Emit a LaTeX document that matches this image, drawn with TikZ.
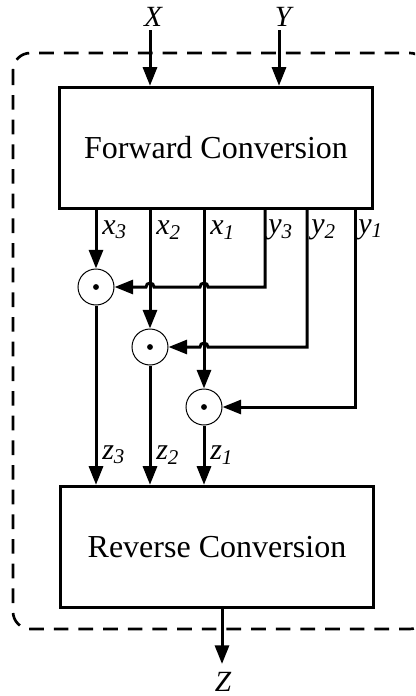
\documentclass[tikz,border=0pt]{standalone}
\usepackage{fontspec}
\setmainfont{Liberation Serif}
\usetikzlibrary{arrows.meta}
\begin{document}
\begin{tikzpicture}[x=0.75pt,y=-0.75pt,
  box/.style={draw,line width=2.25pt,minimum width=235pt,minimum height=91pt,inner sep=0,font=\fontsize{24}{28}\selectfont},
  arr/.style={line width=2.25pt,-{Triangle[length=14pt,width=10.5pt]}},
  mul/.style={draw,circle,line width=0.75pt,minimum size=27pt,inner sep=0},
  lab/.style={anchor=west,inner sep=0,font=\fontsize{22.5}{26}\selectfont\itshape},
  io/.style={inner sep=0,font=\fontsize{22}{26}\selectfont\itshape}]
\useasboundingbox (0,0) rectangle (415,696);
\clip (0,0) rectangle (415,696);
\draw[line width=2pt,dash pattern=on 11pt off 7.5pt,rounded corners=13pt] (13,53) rectangle (427,629);
\node[box] (fwd) at (216,148) {Forward Conversion};
\node[box] (rev) at (217,547) {Reverse Conversion};
\node[io] (X) at (153,17) {X};
\node[io] (Y) at (283,17) {Y};
\node[io] (Z) at (223,682) {Z};
\coordinate (xs) at (150,30);
\coordinate (ys) at (279,30);
\coordinate (ze) at (222,664);
\draw[arr] (xs) -- (xs |- fwd.north);
\draw[arr] (ys) -- (ys |- fwd.north);
\draw[arr] (ze |- rev.south) -- (ze);
\node[mul] (m1) at (96,287) {};
\node[mul] (m2) at (150,347) {};
\node[mul] (m3) at (204,407) {};
\fill (m1) circle (2.2pt);
\fill (m2) circle (2.2pt);
\fill (m3) circle (2.2pt);
\coordinate (y3) at (265,209);
\coordinate (y2) at (307,209);
\coordinate (y1) at (355,209);
\draw[arr] (fwd.south -| m1) -- (m1.north);
\draw[arr] (fwd.south -| m2) -- (m2.north);
\draw[arr] (fwd.south -| m3) -- (m3.north);
\draw[arr] (y3) -- (y3 |- m1) -- (208,287) arc[start angle=0,end angle=180,radius=3pt] -- (154,287) arc[start angle=0,end angle=180,radius=3pt] -- (m1.east);
\draw[arr] (y2) -- (y2 |- m2) -- (208,347) arc[start angle=0,end angle=180,radius=3pt] -- (m2.east);
\draw[arr] (y1) -- (y1 |- m3) -- (m3.east);
\draw[arr] (m1.south) -- (m1.south |- rev.north);
\draw[arr] (m2.south) -- (m2.south |- rev.north);
\draw[arr] (m3.south) -- (m3.south |- rev.north);
\node[lab] (lx3) at (102,230) {x\textsubscript{3}};
\node[lab] (lx2) at (156,230) {x\textsubscript{2}};
\node[lab] (lx1) at (210,230) {x\textsubscript{1}};
\node[lab] (ly3) at (268,230) {y\textsubscript{3}};
\node[lab] (ly2) at (311,230) {y\textsubscript{2}};
\node[lab] (ly1) at (358,230) {y\textsubscript{1}};
\node[lab] (lz3) at (102,455) {z\textsubscript{3}};
\node[lab] (lz2) at (156,455) {z\textsubscript{2}};
\node[lab] (lz1) at (210,455) {z\textsubscript{1}};
\end{tikzpicture}
\end{document}
